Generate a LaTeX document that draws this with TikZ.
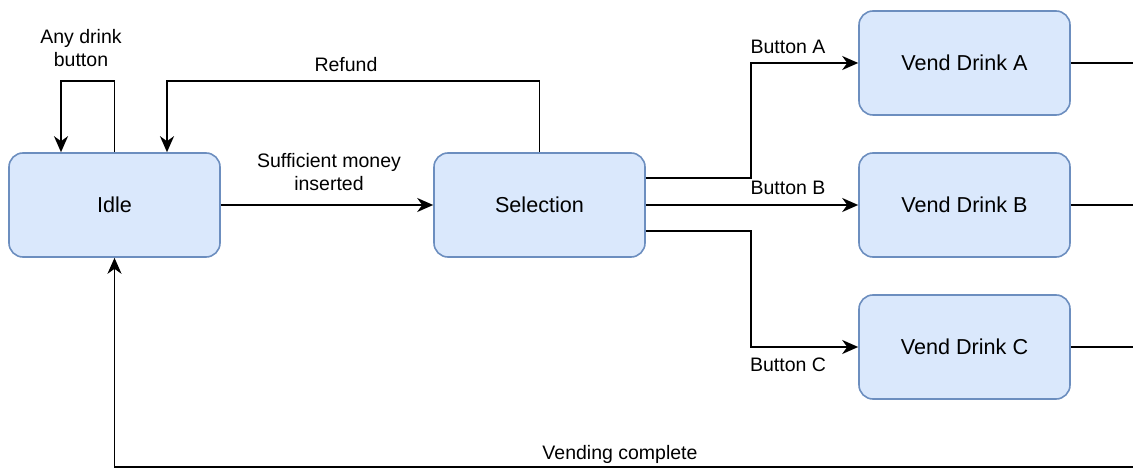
\documentclass[tikz,border=0pt]{standalone}
\usepackage{fontspec}
\setmainfont{Liberation Sans}
\usetikzlibrary{arrows.meta}
\begin{document}
\begin{tikzpicture}[x=1pt,y=-1pt,
  state/.style={draw=stateborder,fill=statefill,line width=1.6pt,rounded corners=14pt,
    minimum width=211pt,minimum height=104pt,inner sep=0pt,
    font=\fontsize{21.6}{25}\selectfont},
  lbl/.style={font=\fontsize{19.5}{22.5}\selectfont,align=center,inner sep=0pt},
  link/.style={draw=black,line width=1.8pt},
  arr/.style={link,-{Stealth[length=16pt,width=14pt,inset=5pt]}}]
\definecolor{statefill}{HTML}{DAE8FC}
\definecolor{stateborder}{HTML}{6C8EBF}
\useasboundingbox (0,0) rectangle (1133,470);

% states
\node[state] (idle) at (114.5,205) {Idle};
\node[state] (sel)  at (539.5,205) {Selection};
\node[state] (va)   at (964.5,63)  {Vend Drink A};
\node[state] (vb)   at (964.5,205) {Vend Drink B};
\node[state] (vc)   at (964.5,347) {Vend Drink C};

% free ends on the right and bottom
\coordinate (rim) at (1133,0);
\coordinate (floor) at (1133,467);

% self loop on idle
\draw[arr] (idle.north) -- ++(0,-71) -| ([xshift=-53.5pt]idle.north);
\node[lbl] (lany) at (81,48) {Any drink\\button};

% refund back to idle
\draw[arr] (sel.north) -- ++(0,-71) -| ([xshift=52.5pt]idle.north);
\node[lbl] (lref) at (346,65) {Refund};

% money inserted
\draw[arr] (idle.east) -- (sel.west);
\node[lbl] (lmoney) at (329,172) {Sufficient money\\inserted};

% drink selection
\draw[arr] ([yshift=27pt]sel.east) -- ++(105,0) |- (va.west);
\node[lbl] (la) at (788,47) {Button A};
\draw[arr] (sel.east) -- (vb.west);
\node[lbl] (lb) at (788,188) {Button B};
\draw[arr] ([yshift=-26pt]sel.east) -- ++(105,0) |- (vc.west);
\node[lbl] (lc) at (788,365) {Button C};

% outgoing lines from vending states
\draw[link] (va.east) -- (va.east -| rim);
\draw[link] (vb.east) -- (vb.east -| rim);
\draw[link] (vc.east) -- (vc.east -| rim);

% vending complete back to idle
\draw[arr] (floor) -| (idle.south);
\node[lbl] (ldone) at (620,454) {Vending complete};
\end{tikzpicture}
\end{document}
